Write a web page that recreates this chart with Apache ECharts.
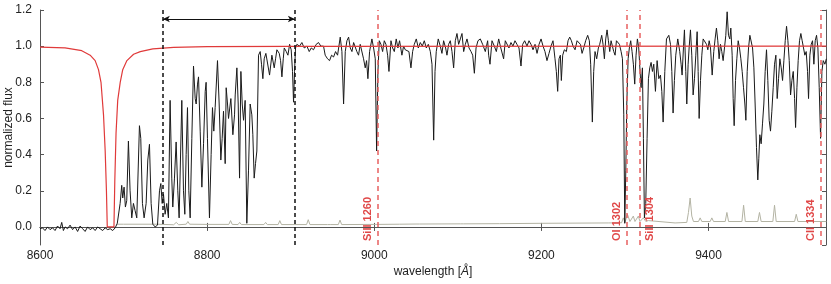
<!DOCTYPE html>
<html>
<head>
<meta charset="utf-8">
<script src="https://cdn.jsdelivr.net/npm/echarts@6/dist/echarts.min.js"></script>
<style>html,body{margin:0;padding:0;background:#fff}#chart{width:831px;height:284px}</style>
</head>
<body>
<div id="chart"></div>
<script>
// observed normalized flux [wavelength (Å), flux]
const observedFlux = [
[8600,-0.01],[8603,-0.005],[8606,-0.02],[8609,0.0],[8612,-0.015],[8615,-0.005],[8618,-0.02],[8621,0.005],[8624,-0.01],[8626,0.025],[8628,-0.02],[8630,0.0],[8633,-0.01],[8636,0.01],[8639,-0.015],[8642,0.0],[8645,-0.025],[8648,0.005],[8651,-0.01],[8654,-0.025],[8657,0.0],[8660,-0.015],[8663,-0.005],[8666,-0.02],[8669,0.0],[8672,-0.01],[8675,-0.02],[8678,-0.005],[8681,-0.015],[8684,-0.01],[8687,-0.02],[8690,-0.005],[8692.5,0.02],
[8695.9,0.13],[8697.8,0.23],[8699.0,0.16],[8700.6,0.22],[8702.2,0.11],[8703.8,0.145],[8705.8,0.475],[8707.8,0.2],[8709.8,0.05],[8711.8,0.13],[8713.8,0.09],[8715.8,0.05],[8719.0,0.56],[8720.6,0.49],[8722.6,0.13],[8724.6,0.05],[8727,0.13],[8729,0.37],[8731,0.457],[8733,0.13],[8735,0.015],[8737.8,0.0],[8740.6,0.01],[8743,0.2],[8744.6,0.24],[8746.2,0.13],[8747.8,0.18],[8749.7,0.07],[8751.7,0.13],[8753.7,0.05],
[8755.7,0.70],[8757.7,0.27],[8758.9,0.11],[8760.9,0.27],[8762.9,0.47],[8764.9,0.2],[8766.5,0.05],[8769.7,0.70],[8771.7,0.2],[8773.3,0.07],[8774.9,0.40],[8776.5,0.66],[8778.1,0.2],[8779.7,0.05],[8781.7,0.49],[8783.7,0.89],[8785.7,0.71],[8786.9,0.68],[8788.5,0.79],[8789.7,0.83],[8791.7,0.53],[8793.7,0.22],[8795.7,0.46],[8797.7,0.75],[8798.8,0.8],[8800.4,0.49],[8802.8,0.05],[8804.8,0.40],[8806.4,0.66],[8808,0.53],[8809.6,0.66],[8812.4,0.92],[8814.4,0.68],[8816.4,0.37],[8818,0.49],[8819.6,0.64],[8821.6,0.35],[8822.8,0.77],[8824.4,0.68],[8825.6,0.60],[8828.4,0.71],[8830.8,0.51],[8832.8,0.62],[8833.6,0.73],[8835.6,0.88],[8837.2,0.68],[8838.8,0.27],[8840.4,0.86],[8842,0.68],[8843.6,0.59],[8845.5,0.70],[8847.5,0.02],[8849.5,0.31],[8851.5,0.68],[8853.5,0.62],[8854.7,0.51],[8856.3,0.27],[8857.9,0.35],[8859.5,0.42],[8861.5,0.95],[8863.5,0.97],[8865.1,0.90],[8866.7,0.82],[8868.3,0.93],[8870.3,0.96],[8872.3,0.97],[8874.7,0.84],[8877.5,0.95],[8880.3,0.88],[8881.9,0.93],[8883.5,0.98],[8886.3,0.96],[8887.9,0.92],[8889.5,0.83],[8891.1,0.93],[8892.3,0.99],[8894.7,0.97],[8896.7,0.95],[8898.7,1.01],[8900.6,0.98],[8902.2,0.86],[8903.4,0.69],[8904.6,0.86],[8905.8,0.99],[8907.4,1.01],[8909.4,1.02],
[8910.6,1.0],[8913.4,1.02],[8916.2,0.99],[8919.4,1.0],[8922.2,0.97],[8924.6,0.99],[8927.3,0.98],[8930.5,1.01],[8933.3,1.02],[8936.1,1.0],[8939.3,1.0],[8941.3,0.95],[8944.1,0.93],[8946.5,0.92],[8948.9,0.95],[8951.3,0.94],[8953.7,0.97],[8956.1,0.95],[8959.3,1.05],[8961.3,0.97],[8963.3,0.68],[8965.3,0.97],[8967.3,1.03],[8969.3,1.05],[8971.3,0.99],[8973.3,0.97],[8975.3,1.02],[8977.2,1.03],[8979.2,0.97],[8981.2,0.95],[8983.2,1.01],[8985.2,1.0],[8987.2,0.93],[8989.2,0.88],[8990.8,0.92],[8992.4,0.82],[8994.4,0.97],[8997.2,1.04],[8999.2,0.99],[9001.2,0.93],[9002.8,0.42],[9004.4,0.86],[9006,1.03],[9008,1.01],[9010,0.97],[9012,1.03],[9014,1.01],[9016,0.95],[9017.6,0.86],[9020,1.03],[9022,0.99],[9024,0.97],[9026.3,1.04],[9028.3,0.99],[9030.3,1.03],[9033.1,0.95],[9035.1,1.0],[9037.1,0.98],[9039.1,0.99],[9041.5,0.97],[9043.9,0.88],[9045.9,0.97],[9047.9,1.01],[9050.3,1.04],[9052.7,0.99],[9055.1,1.02],[9057.5,1.0],[9059.9,1.03],[9062.3,0.99],[9064.7,1.01],[9067.1,0.97],[9069.1,0.9],[9071.1,0.48],[9072.7,0.86],[9074.2,0.97],[9076.6,1.04],[9079,1.0],[9081,0.96],[9083,1.03],[9085.4,0.99],[9087,0.95],[9089,1.01],[9091,1.03],[9093,0.97],[9095,0.88],[9097,1.03],[9099,1.07],[9101,1.01],[9103,1.04],[9105,1.07],[9107,0.97],[9109,1.01],[9111,1.04],[9113.4,0.99],[9115.8,0.97],[9117.8,0.95],[9119.8,0.85],[9121.8,0.99],[9124.1,1.03],[9126.9,1.04],[9129.7,1.01],[9132.9,0.97],[9135.7,1.03],
[9136.9,0.95],[9138.5,0.90],[9140.9,1.03],[9143.7,1.0],[9146.1,0.97],[9148.9,1.04],[9150.9,1.0],[9152.9,0.99],[9154.8,0.93],[9156.8,1.03],[9158.8,1.04],[9161.2,0.99],[9163.6,1.02],[9166,1.0],[9168.4,1.03],[9170.8,1.01],[9173.2,0.99],[9175.6,0.89],[9177.6,1.01],[9180,1.03],[9182.8,1.0],[9185.2,1.03],[9187.6,1.01],[9190,0.98],[9192.4,1.01],[9194.8,0.96],[9197.2,1.01],[9199.6,1.04],[9202,1.0],[9204.3,0.97],[9206.7,0.92],[9209.1,0.96],[9211.5,1.0],[9213.9,1.03],[9216.3,0.93],[9217.9,0.86],[9219.5,0.75],[9221.1,0.93],[9222.7,0.95],[9223.9,0.81],[9225.5,0.95],[9227.5,0.98],[9229.9,0.97],[9231.9,1.03],[9233.9,1.05],[9235.9,1.03],[9237.9,1.0],[9240.3,0.98],[9242.7,1.03],[9244.7,1.04],[9246.7,1.01],[9248.7,0.96],[9250.7,0.99],[9253,1.03],[9255.4,1.06],[9257.4,1.03],[9259,0.9],[9261,0.58],[9262.6,0.86],[9264.2,0.97],[9266.2,0.93],[9268.2,0.99],[9269.8,1.01],[9272.2,1.06],[9273.8,1.01],[9275.4,0.93],[9277,1.04],[9278.6,1.09],[9280.2,1.03],[9281.8,0.97],[9283.4,1.03],[9285,1.03],[9286.6,0.97],[9288.2,0.95],[9289.8,1.03],[9291.4,1.04],[9293.4,1.01],[9295.4,0.97],[9297,0.93],[9298.6,0.62],[9299.8,0.02],[9301,0.31],[9302.2,0.68],[9303.8,0.93],[9305.3,0.99],[9306.9,1.03],[9308.5,0.97],[9310.1,0.9],[9311.7,0.79],[9313.3,0.95],[9314.9,1.04],[9316.5,0.99],[9318.1,0.86],[9319.3,0.77],[9320.9,0.88],[9322.1,0.49],[9323.3,0.05],[9324.9,0.13],[9326.5,0.49],[9328.1,0.82],[9329.7,0.88],[9331.3,0.91],[9332.9,0.86],[9334.5,0.90],[9336.5,0.75],[9338.5,0.92],[9340.5,0.82],
[9342.5,0.84],[9344.1,0.75],[9345.7,0.58],[9347.7,0.86],[9349.7,1.04],[9352.5,1.06],[9354.5,1.01],[9356.1,0.86],[9357.6,0.63],[9359.2,0.81],[9360.8,0.95],[9363.2,1.04],[9365.6,0.97],[9367.2,0.90],[9368.4,0.84],[9370,0.99],[9371.2,1.09],[9372.8,0.86],[9374,0.68],[9375.6,0.9],[9376.8,0.99],[9378.4,1.09],[9380,0.95],[9381.6,0.73],[9383.2,0.82],[9384.8,0.95],[9386.4,1.08],[9387.6,0.86],[9388.8,0.60],[9390.4,0.81],[9392,0.95],[9393.6,1.04],[9395.6,1.03],[9397.6,1.01],[9399.2,0.98],[9400.8,1.03],[9402.4,0.99],[9404.4,0.84],[9406.3,0.97],[9407.9,1.04],[9409.5,1.1],[9411.1,1.03],[9412.7,0.93],[9414.3,1.01],[9415.9,0.97],[9417.5,0.92],[9419.1,0.99],[9420.7,1.06],[9422.3,1.19],[9423.9,1.06],[9425.5,1.04],[9426.7,1.1],[9428.3,0.95],[9429.5,0.71],[9430.7,0.56],[9432.3,0.81],[9433.9,0.93],[9435.5,1.03],[9437.1,0.99],[9438.7,0.93],[9440.3,0.86],[9441.9,0.77],[9443.5,0.68],[9444.7,0.59],[9446.3,0.86],[9447.9,0.99],[9449.5,1.06],[9451.1,1.06],[9452.7,0.99],[9454.3,0.88],[9455.8,0.68],[9457.4,0.44],[9459,0.26],[9460.2,0.38],[9461.4,0.51],[9463,0.46],[9464.6,0.57],[9466.2,0.68],[9467.8,0.86],[9469.4,0.98],[9471,0.81],[9472.6,0.59],[9474.2,0.53],[9475.8,0.64],[9477.4,0.77],[9479,0.90],[9480.6,0.95],[9482.2,0.71],[9483.8,0.82],[9485.4,0.93],[9487,0.88],[9488.6,0.81],[9490.2,0.92],[9491.8,1.03],[9493.4,1.11],[9495,1.03],[9496.6,0.92],[9498.2,0.73],[9499.8,0.81],[9501.4,0.86],[9503,0.71],[9504.2,0.55],[9505.8,0.77],[9507.3,0.92],[9508.9,1.03],[9510.5,1.07],[9512.1,1.03],[9513.7,0.99],[9515.3,0.95],[9516.9,0.97],[9518.5,0.86],[9519.7,0.71],[9521.3,0.95],[9522.9,1.01],[9524.5,1.03],[9526.1,0.90],[9527.7,1.03],[9529.3,1.06],[9530.9,0.99],[9532.5,0.77],[9534.1,0.49],[9535.7,0.86],[9537.3,0.92],[9539.3,0.90],[9541,0.93]
];

// flux error spectrum
const errorFlux = [
[8692,0.015],[8700,0.015],[8740,0.015],[8760,0.012],[8763,0.025],[8766,0.012],[8775,0.015],[8777,0.03],[8779,0.015],[8800,0.014],[8826,0.014],[8828,0.035],[8830,0.014],[8837,0.013],[8839,0.025],[8841,0.013],[8868,0.013],[8870,0.025],[8872,0.013],[8885,0.013],[8887,0.035],[8889,0.013],[8919,0.013],[8921,0.04],[8923,0.013],[8944,0.013],[8946,0.022],[8948,0.013],[8957,0.013],[8959,0.038],[8961,0.013],[9001,0.014],[9003,0.025],[9005,0.014],[9030,0.015],[9050,0.016],[9052,0.022],[9054,0.016],[9103,0.017],[9105,0.022],[9107,0.017],[9150,0.018],[9200,0.02],[9280,0.022],[9296,0.023],[9298,0.05],[9300,0.025],[9303,0.07],[9306,0.03],[9310,0.06],[9312,0.03],[9316,0.06],[9318,0.03],[9322,0.05],[9325,0.03],[9328,0.035],[9330,0.025],[9360,0.022],[9374,0.025],[9376,0.08],[9378,0.16],[9380,0.06],[9382,0.03],[9388,0.03],[9390,0.05],[9392,0.03],[9402,0.03],[9404,0.05],[9406,0.03],[9420,0.03],[9422,0.08],[9424,0.03],[9440,0.03],[9442,0.12],[9444,0.03],[9459,0.03],[9461,0.08],[9463,0.03],[9477,0.03],[9479,0.12],[9481,0.03],[9503,0.03],[9505,0.07],[9507,0.03],[9541,0.03]
];

// damped Lyα model profile
const dlaModel = [
[8600,0.995],[8630,0.99],[8650,0.975],[8660,0.95],[8666,0.92],[8670,0.87],[8673,0.8],[8676,0.62],[8678,0.42],[8679.5,0.2],[8680.5,0.0],[8688.5,0.0],[8689.5,0.25],[8691,0.52],[8693,0.7],[8696,0.8],[8699,0.87],[8704,0.92],[8712,0.955],[8720,0.97],[8735,0.985],[8760,0.993],[8800,0.997],[8900,0.999],[9541,1.0]
];

// metal line positions and names
const lineWaves = [9004, 9302, 9318, 9534];
const lineNames = ['SiII 1260', 'OI 1302', 'SiII 1304', 'CII 1334'];
const lineSide  = ['left', 'left', 'right', 'left'];
// window edges and arrow level
const windowEdges = [8747, 8905];
const arrowLevel = 1.15;

const xMin = 8600, xMax = 9540.6;
const font = 'Liberation Sans, Arial, Helvetica, sans-serif';
const chart = echarts.init(document.getElementById('chart'), null, {renderer: 'canvas'});

const metalMarks = lineWaves.map((w, i) => ({
  xAxis: w,
  label: {
    show: true,
    formatter: lineNames[i],
    position: lineSide[i] === 'left' ? 'insideStartTop' : 'insideStartBottom',
    color: '#e04848', fontSize: 11, fontWeight: 'bold', fontFamily: font, distance: 4
  }
}));

const axisLineStyle = {color: '#555', width: 1};
const option = {
  animation: false,
  backgroundColor: '#fff',
  grid: {left: 40, right: 5, top: 10, bottom: 39, containLabel: false, outerBoundsMode: 'none'},
  xAxis: [{
    type: 'value', min: xMin, max: xMax, interval: 200,
    name: 'wavelength [{i|Å}]', nameLocation: 'middle', nameGap: 21, nameMoveOverlap: false,
    nameTextStyle: {fontSize: 12, color: '#222', fontFamily: font, rich: {i: {fontStyle: 'italic', fontSize: 12, color: '#222', fontFamily: font}}},
    axisLine: {show: true, lineStyle: axisLineStyle},
    axisTick: {show: true, inside: true, length: 4, lineStyle: axisLineStyle},
    axisLabel: {fontSize: 12, color: '#222', fontFamily: font, margin: 5, showMaxLabel: false,
      formatter: v => (v % 200 === 0 ? String(v) : '')},
    splitLine: {show: false}
  }, {
    type: 'value', min: xMin, max: xMax, interval: 200, position: 'top',
    axisLine: {show: true, lineStyle: axisLineStyle},
    axisTick: {show: true, inside: true, length: 4, lineStyle: axisLineStyle},
    axisLabel: {show: false}, splitLine: {show: false}
  }],
  yAxis: [{
    type: 'value', min: -0.1, max: 1.2, splitNumber: 7, minInterval: 0.2, maxInterval: 0.2,
    name: 'normalized flux', nameLocation: 'middle', nameGap: 25, nameMoveOverlap: false,
    nameTextStyle: {fontSize: 12, color: '#222', fontFamily: font},
    axisLine: {show: true, lineStyle: axisLineStyle},
    axisTick: {show: true, inside: true, length: 4, lineStyle: axisLineStyle},
    axisLabel: {fontSize: 12, color: '#222', fontFamily: font, margin: 8, showMinLabel: false,
      formatter: v => (Math.abs(Math.round(v * 10) % 2) === 0 ? v.toFixed(1) : '')},
    splitLine: {show: false}
  }, {
    type: 'value', min: -0.1, max: 1.2, splitNumber: 7, minInterval: 0.2, maxInterval: 0.2, position: 'right',
    axisLine: {show: true, lineStyle: axisLineStyle},
    axisTick: {show: true, inside: true, length: 4, lineStyle: axisLineStyle},
    axisLabel: {show: false}, splitLine: {show: false}
  }],
  series: [{
    type: 'line', name: 'error', data: errorFlux, showSymbol: false, symbol: 'none',
    lineStyle: {color: '#b3b3a3', width: 1}, z: 2, silent: true
  }, {
    type: 'line', name: 'flux', data: observedFlux, showSymbol: false, symbol: 'none',
    lineStyle: {color: '#1a1a1a', width: 1}, z: 3, silent: true
  }, {
    type: 'line', name: 'model', data: dlaModel, showSymbol: false, symbol: 'none',
    lineStyle: {color: '#e03a3a', width: 1.2}, z: 4, silent: true,
    markLine: {
      silent: true, symbol: 'none', animation: false,
      lineStyle: {color: '#e86060', type: [5, 4], width: 1.5},
      data: metalMarks
    }
  }, {
    type: 'line', name: 'window', data: [], showSymbol: false, z: 5, silent: true,
    markLine: {
      silent: true, animation: false, symbol: 'none',
      label: {show: false},
      lineStyle: {color: '#111', type: [4, 3], width: 1.5},
      data: [
        {xAxis: windowEdges[0]},
        {xAxis: windowEdges[1]}
      ]
    }
  }, {
    type: 'line', name: 'arrow', data: [], showSymbol: false, z: 6, silent: true,
    markLine: {
      silent: true, animation: false, symbol: ['arrow', 'arrow'], symbolSize: [5, 7],
      label: {show: false},
      lineStyle: {color: '#111', type: 'solid', width: 1},
      data: [[{coord: [windowEdges[0], arrowLevel]}, {coord: [windowEdges[1], arrowLevel]}]]
    }
  }]
};
chart.setOption(option);
</script>
</body>
</html>
